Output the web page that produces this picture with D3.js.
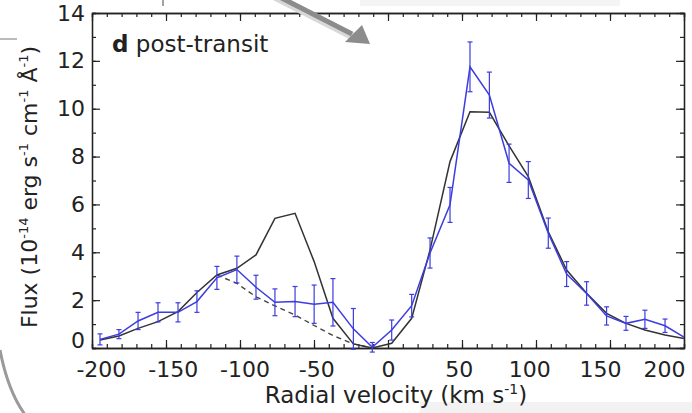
<!DOCTYPE html>
<html>
<head>
<meta charset="utf-8">
<style>
	body { margin: 0; background: #fff; }
	svg { font-family: "DejaVu Sans", sans-serif; }
	.axis path { fill: none; stroke: #222; stroke-width: 1.3px; }
	.axis line { stroke: #222; stroke-width: 1.2px; }
	.axis text { font-size: 22px; fill: #222; font-family: "DejaVu Sans", sans-serif; }
</style>
<script src="https://d3js.org/d3.v7.min.js"></script>
</head>
<body>
<script>
// radial velocity of each spectral bin (km/s)
var velocity = [-194.6, -181.8, -168.9, -155.4, -141.9, -129.1, -115.6, -102.1, -89.2, -76.4,
                -62.8, -49.9, -37.2, -23.4, -10.6, 2.5, 16.0, 28.4, 41.9, 55.4,
                68.5, 81.8, 94.8, 108.3, 120.7, 134.2, 147.7, 160.8, 173.6, 187.2, 200.0];
// observed flux (blue), 1e-14 erg/s/cm2/A
var fluxObs = [0.36, 0.58, 1.13, 1.49, 1.49, 1.94, 2.93, 3.28, 2.54, 1.91,
               1.94, 1.83, 1.91, 0.80, 0.03, 0.75, 1.77, 3.97, 5.98, 11.75,
               10.57, 7.72, 7.02, 4.80, 3.09, 2.28, 1.34, 1.03, 1.20, 0.93, 0.45];
var fluxErr = [0.23, 0.19, 0.36, 0.40, 0.40, 0.45, 0.48, 0.56, 0.50, 0.56,
               0.63, 0.80, 0.99, 0.85, 0.20, 0.42, 0.47, 0.63, 0.73, 1.04,
               0.96, 0.80, 0.77, 0.63, 0.52, 0.49, 0.38, 0.29, 0.38, 0.28, 0];
// model profile (black solid)
var fluxModel = [0.33, 0.50, 0.82, 1.10, 1.52, 2.32, 3.05, 3.33, 3.89, 5.42,
                 5.63, 3.61, 1.24, 0.17, 0.00, 0.20, 1.24, 4.10, 7.79, 9.87,
                 9.85, 8.45, 7.16, 4.86, 3.26, 2.29, 1.45, 1.03, 0.75, 0.54, 0.40];
// model without the extra blue-shifted component (dashed), bins 6..14
var dashVel = [-115.6, -102.1, -89.2, -76.4, -62.8, -49.9, -37.2, -23.4, -10.6];
var dashFlux = [3.05, 2.70, 2.14, 1.76, 1.38, 0.94, 0.52, 0.17, 0.00];

var xTicks = [-200, -150, -100, -50, 0, 50, 100, 150, 200];
var yTicks = [0, 2, 4, 6, 8, 10, 12, 14];

var width = 692, height = 413;
var pLeft = 92, pRight = 684, pTop = 13, pBottom = 348;

var svg = d3.select("body").append("svg")
	.attr("width", width)
	.attr("height", height);

var x = d3.scaleLinear().domain([-200, 200]).range([pLeft, pRight]);
var y = d3.scaleLinear().domain([0, 14]).range([pBottom, pTop]);

// slide decorations around the figure
svg.append("path")
	.attr("d", "M0,350 Q8,392 26,416")
	.attr("fill", "none").attr("stroke", "#9a9a9a").attr("stroke-width", 3);
svg.append("rect").attr("x", 420).attr("y", 402).attr("width", 272).attr("height", 11)
	.attr("fill", "#f2f2f2");
svg.append("rect").attr("x", 360).attr("y", 0).attr("width", 260).attr("height", 6)
	.attr("fill", "#f4f4f4");
svg.append("line").attr("x1", 163).attr("x2", 163).attr("y1", 0).attr("y2", 6)
	.attr("stroke", "#666").attr("stroke-width", 1.2);
svg.append("line").attr("x1", 0).attr("x2", 17).attr("y1", 39).attr("y2", 39)
	.attr("stroke", "#777").attr("stroke-width", 1);

// minor ticks
var minorX = d3.range(-200, 201, 10);
var minorY = d3.range(0, 15, 1);
svg.append("g").attr("class", "axis")
	.attr("transform", "translate(0," + pBottom + ")")
	.call(d3.axisBottom(x).tickValues(minorX).tickSize(-4).tickFormat(""));
svg.append("g").attr("class", "axis")
	.attr("transform", "translate(0," + pTop + ")")
	.call(d3.axisTop(x).tickValues(minorX).tickSize(-4).tickFormat(""));
svg.append("g").attr("class", "axis")
	.attr("transform", "translate(" + pLeft + ",0)")
	.call(d3.axisLeft(y).tickValues(minorY).tickSize(-4).tickFormat(""));
svg.append("g").attr("class", "axis")
	.attr("transform", "translate(" + pRight + ",0)")
	.call(d3.axisRight(y).tickValues(minorY).tickSize(-4).tickFormat(""));

// major ticks
var plain = function(d){ return String(d); };
var xAxis = svg.append("g").attr("class", "axis")
	.attr("transform", "translate(0," + pBottom + ")")
	.call(d3.axisBottom(x).tickValues(xTicks).tickSize(-8).tickPadding(13).tickSizeOuter(0).tickFormat(plain));
svg.append("g").attr("class", "axis")
	.attr("transform", "translate(0," + pTop + ")")
	.call(d3.axisTop(x).tickValues(xTicks).tickSize(-8).tickFormat("").tickSizeOuter(0));
var yAxis = svg.append("g").attr("class", "axis")
	.attr("transform", "translate(" + pLeft + ",0)")
	.call(d3.axisLeft(y).tickValues(yTicks).tickSize(-8).tickPadding(7).tickSizeOuter(0).tickFormat(plain));
svg.append("g").attr("class", "axis")
	.attr("transform", "translate(" + pRight + ",0)")
	.call(d3.axisRight(y).tickValues(yTicks).tickSize(-8).tickFormat("").tickSizeOuter(0));

// x labels are pulled a bit towards the centre, as in the original
var x0 = x(0);
xAxis.selectAll(".tick text")
	.attr("x", function(d){ return (x(d) - x0) * (d < 0 ? -0.03 : -0.045); });
xAxis.selectAll(".tick text").filter(function(d){ return d === 200; })
	.attr("text-anchor", "end").attr("x", 1);

// the zero label sits a little higher
yAxis.selectAll(".tick text").filter(function(d){ return d === 0; })
	.attr("y", -8);

// lines
var line = d3.line()
	.x(function(d){ return x(d[0]); })
	.y(function(d){ return y(d[1]); });

svg.append("path")
	.datum(dashVel.map(function(v, i){ return [v, dashFlux[i]]; }))
	.attr("d", line)
	.attr("fill", "none").attr("stroke", "#444").attr("stroke-width", 1.4)
	.attr("stroke-dasharray", "5,4");

svg.append("path")
	.datum(velocity.map(function(v, i){ return [v, fluxModel[i]]; }))
	.attr("d", line)
	.attr("fill", "none").attr("stroke", "#333").attr("stroke-width", 1.5);

var blue = "#3c3ce0";
var errs = svg.append("g").selectAll("g")
	.data(velocity.map(function(v, i){ return {v: v, f: fluxObs[i], e: fluxErr[i]}; })
		.filter(function(d){ return d.e > 0; }))
	.enter().append("g")
	.attr("stroke", blue).attr("stroke-width", 1.2);
errs.append("line")
	.attr("x1", function(d){ return x(d.v); })
	.attr("x2", function(d){ return x(d.v); })
	.attr("y1", function(d){ return y(d.f - d.e); })
	.attr("y2", function(d){ return y(d.f + d.e); });
errs.append("line")
	.attr("x1", function(d){ return x(d.v) - 2.5; })
	.attr("x2", function(d){ return x(d.v) + 2.5; })
	.attr("y1", function(d){ return y(d.f - d.e); })
	.attr("y2", function(d){ return y(d.f - d.e); });
errs.append("line")
	.attr("x1", function(d){ return x(d.v) - 2.5; })
	.attr("x2", function(d){ return x(d.v) + 2.5; })
	.attr("y1", function(d){ return y(d.f + d.e); })
	.attr("y2", function(d){ return y(d.f + d.e); });

svg.append("path")
	.datum(velocity.map(function(v, i){ return [v, fluxObs[i]]; }))
	.attr("d", line)
	.attr("fill", "none").attr("stroke", blue).attr("stroke-width", 1.5);

// panel label
var lab = svg.append("text").attr("x", 112).attr("y", 52)
	.attr("font-size", 23).attr("fill", "#222");
lab.append("tspan").attr("font-weight", "bold").text("d");
lab.append("tspan").text(" post-transit");

// axis titles
var xt = svg.append("text")
	.attr("x", 396).attr("y", 403)
	.attr("text-anchor", "middle").attr("font-size", 23).attr("fill", "#222");
xt.append("tspan").text("Radial velocity (km s");
xt.append("tspan").attr("font-size", 14).attr("dy", -9).text("-1");
xt.append("tspan").attr("dy", 9).text(")");

var yt = svg.append("text")
	.attr("transform", "translate(37,187) rotate(-90)")
	.attr("text-anchor", "middle").attr("font-size", 22).attr("fill", "#222");
yt.append("tspan").text("Flux (10");
yt.append("tspan").attr("font-size", 13).attr("dy", -9).text("-14");
yt.append("tspan").attr("dy", 9).text(" erg s");
yt.append("tspan").attr("font-size", 13).attr("dy", -9).text("-1");
yt.append("tspan").attr("dy", 9).text(" cm");
yt.append("tspan").attr("font-size", 13).attr("dy", -9).text("-1");
yt.append("tspan").attr("dy", 9).text(" Å");
yt.append("tspan").attr("font-size", 13).attr("dy", -9).text("-1");
yt.append("tspan").attr("dy", 9).text(")");

// grey pointer arrow from the slide
var arrow = svg.append("g");
arrow.append("line")
	.attr("x1", 262).attr("y1", -12).attr("x2", 352).attr("y2", 34)
	.attr("stroke", "#d8d8d8").attr("stroke-width", 8).attr("transform", "translate(2,3)");
arrow.append("line")
	.attr("x1", 262).attr("y1", -12).attr("x2", 352).attr("y2", 34)
	.attr("stroke", "#8c8c8c").attr("stroke-width", 5);
arrow.append("path")
	.attr("d", "M370,44 L345,42 L362,25 Z")
	.attr("fill", "#8c8c8c");
</script>
</body>
</html>
